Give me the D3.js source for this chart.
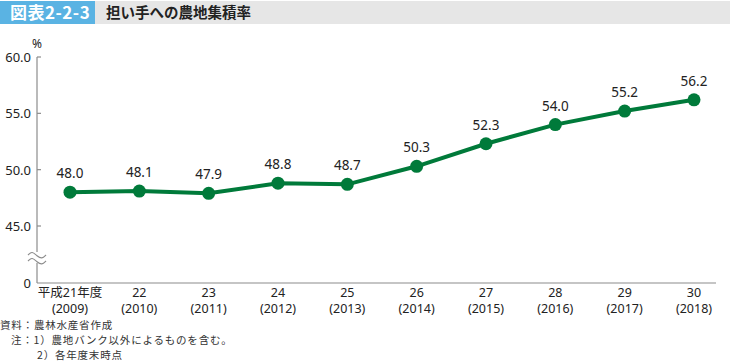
<!DOCTYPE html>
<html>
<head>
<meta charset="utf-8">
<script src="https://cdn.jsdelivr.net/npm/d3@7"></script>
<style>
  body { margin: 0; background: #fff; }
  svg { display: block; font-family: "Noto Sans", "Noto Sans CJK JP", sans-serif; }
</style>
</head>
<body>
<div id="chart"></div>
<script>
// ---- data ----
var years = ["平成21年度", "22", "23", "24", "25", "26", "27", "28", "29", "30"];
var yearsAD = ["(2009)", "(2010)", "(2011)", "(2012)", "(2013)", "(2014)", "(2015)", "(2016)", "(2017)", "(2018)"];
var rates = [48.0, 48.1, 47.9, 48.8, 48.7, 50.3, 52.3, 54.0, 55.2, 56.2];
var yTicks = [45, 50, 55, 60];

var W = 730, H = 362;
var green = "#007a3a";

var svg = d3.select("#chart").append("svg")
    .attr("width", W)
    .attr("height", H);

// Header bar
svg.append("rect").attr("x", 0).attr("y", 1).attr("width", W).attr("height", 23).attr("fill", "#e6e6e6");
svg.append("rect").attr("x", 0).attr("y", 1).attr("width", 95).attr("height", 23).attr("fill", "#5ab3e3");
svg.append("text").attr("x", 10).attr("y", 19)
    .attr("fill", "#fff").attr("font-size", 17).attr("font-weight", "bold")
    .attr("letter-spacing", 0.5)
    .attr("font-family", "Noto Sans CJK JP")
    .text("図表2-2-3");
svg.append("text").attr("x", 106).attr("y", 18)
    .attr("fill", "#222").attr("font-size", 14.5).attr("font-weight", "bold")
    .attr("font-family", "Noto Sans CJK JP")
    .text("担い手への農地集積率");

// Scales
var axisX = 37, zeroY = 283;
var x = d3.scalePoint()
    .domain(d3.range(years.length))
    .range([70, 694]);
var y = d3.scaleLinear()
    .domain([45, 60])
    .range([226, 57]);

// Y axis (with break)
var axisColor = "#8c8c8c";
svg.append("line").attr("x1", axisX).attr("x2", axisX).attr("y1", 57).attr("y2", 252)
    .attr("stroke", axisColor).attr("stroke-width", 1.2);
svg.append("line").attr("x1", axisX).attr("x2", axisX).attr("y1", 263).attr("y2", zeroY)
    .attr("stroke", axisColor).attr("stroke-width", 1.2);
// x axis line
svg.append("line").attr("x1", axisX).attr("x2", 716).attr("y1", zeroY).attr("y2", zeroY)
    .attr("stroke", axisColor).attr("stroke-width", 1.2);

// break squiggles
var wave = d3.line().curve(d3.curveBasis);
[254, 260].forEach(function(by) {
    svg.append("path")
        .attr("d", wave([[28, by + 1], [32, by - 3], [37, by + 2], [42, by + 5], [46, by + 1]]))
        .attr("fill", "none").attr("stroke", axisColor).attr("stroke-width", 1.2);
});

// ticks + labels
yTicks.forEach(function(t) {
    svg.append("line").attr("x1", axisX).attr("x2", axisX + 4)
        .attr("y1", y(t)).attr("y2", y(t))
        .attr("stroke", axisColor).attr("stroke-width", 1.2);
    svg.append("text").attr("x", 31).attr("y", y(t) + 5)
        .attr("text-anchor", "end").attr("font-size", 13).attr("fill", "#222")
        .text(t.toFixed(1));
});
svg.append("text").attr("x", 31).attr("y", zeroY + 5)
    .attr("text-anchor", "end").attr("font-size", 13).attr("fill", "#222").text("0");
svg.append("text").attr("x", 37).attr("y", 48)
    .attr("text-anchor", "middle").attr("font-size", 12).attr("fill", "#222").text("%");

// x labels
years.forEach(function(d, i) {
    svg.append("text").attr("x", x(i)).attr("y", 297)
        .attr("text-anchor", "middle").attr("font-size", 12.5).attr("fill", "#222").text(d);
    svg.append("text").attr("x", x(i)).attr("y", 313)
        .attr("text-anchor", "middle").attr("font-size", 12.5).attr("fill", "#222").text(yearsAD[i]);
});

// Line
var line = d3.line()
    .x(function(d, i) { return x(i); })
    .y(function(d) { return y(d); });
svg.append("path").datum(rates)
    .attr("d", line)
    .attr("fill", "none").attr("stroke", green).attr("stroke-width", 4);

svg.selectAll(".pt").data(rates).enter().append("circle")
    .attr("class", "pt")
    .attr("cx", function(d, i) { return x(i); })
    .attr("cy", function(d) { return y(d); })
    .attr("r", 6.5).attr("fill", green);

svg.selectAll(".lbl").data(rates).enter().append("text")
    .attr("class", "lbl")
    .attr("x", function(d, i) { return x(i); })
    .attr("y", function(d) { return y(d) - 14; })
    .attr("text-anchor", "middle").attr("font-size", 13.5).attr("fill", "#222")
    .text(function(d) { return d.toFixed(1); });

// Footnotes
var notes = [
    {x: 0, y: 329, t: "資料：農林水産省作成"},
    {x: 11, y: 344, t: "注：1）農地バンク以外によるものを含む。"},
    {x: 37, y: 359, t: "2）各年度末時点"}
];
notes.forEach(function(n) {
    svg.append("text").attr("x", n.x).attr("y", n.y)
        .attr("font-size", 10.5).attr("letter-spacing", 0.8).attr("fill", "#333")
        .attr("font-family", "Noto Sans CJK JP")
        .text(n.t);
});
</script>
</body>
</html>
